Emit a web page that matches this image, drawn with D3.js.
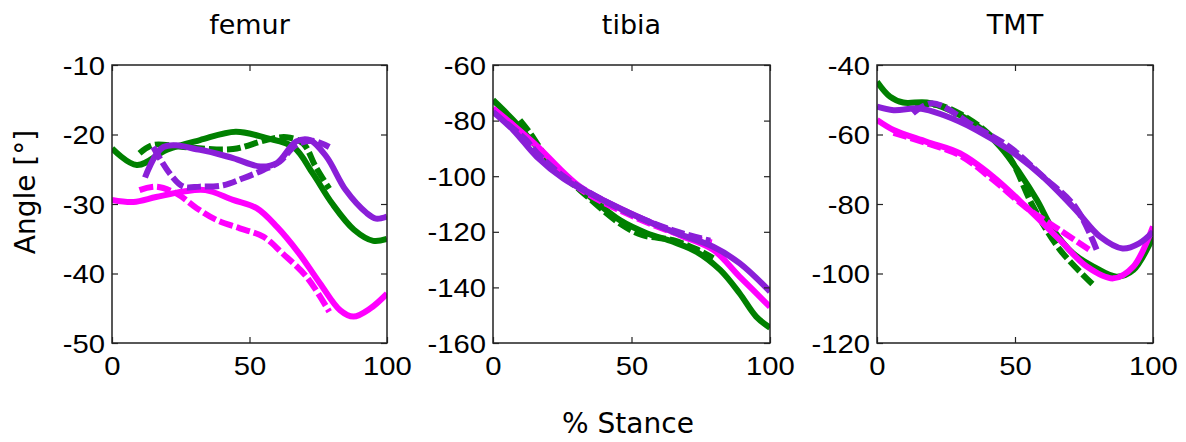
<!DOCTYPE html>
<html>
<head>
<meta charset="utf-8">
<script src="https://cdn.jsdelivr.net/npm/d3@7"></script>
<style>
  html, body { margin: 0; padding: 0; background: #fff; }
  svg { display: block; }
</style>
</head>
<body>
<svg id="chart" width="1186" height="442"></svg>
<script>
// ---------- data ----------
const panelTitles = ["femur", "tibia", "TMT"];
const xTicks = [0, 50, 100];
const yTicksFemur = [-50, -40, -30, -20, -10];
const yTicksTibia = [-160, -140, -120, -100, -80, -60];
const yTicksTMT = [-120, -100, -80, -60, -40];
const xLabel = "% Stance";
const yLabel = "Angle [°]";

// femur: [% stance, angle]
const femurGreenSolid = [[0,-22.0],[9,-24.4],[20,-22.2],[32,-20.8],[45,-19.6],[56,-20.5],[66,-21.8],[73,-25.6],[80,-29.9],[88,-33.7],[95,-35.3],[100,-35.0]];
const femurGreenDash = [[10,-22.7],[15,-21.5],[26,-21.8],[44,-22.1],[56,-20.8],[63.5,-20.4],[69.5,-21.3],[74,-24.6],[79,-27.8]];
const femurMagentaSolid = [[0,-29.4],[7.8,-29.7],[16,-29.0],[26,-28.2],[34,-28.0],[44,-29.4],[52.6,-30.6],[60,-33.3],[68,-37.1],[75.6,-41.4],[83,-45.3],[87.8,-46.2],[94,-45.0],[100,-42.9]];
const femurMagentaDash = [[10,-28.0],[16,-27.5],[23.5,-28.5],[30.8,-30.6],[38,-32.3],[46.5,-33.5],[55,-34.7],[62,-37.1],[70.8,-40.5],[79,-45.5]];
const femurPurpleSolid = [[12,-26.2],[18.7,-21.8],[32,-22.2],[44,-23.4],[54,-24.6],[60,-24.1],[67,-21.0],[72,-20.8],[78,-23.2],[85,-28.0],[92.6,-31.3],[96,-32.1],[100,-31.8]];
const femurPurpleDash = [[15,-21.8],[21,-25.6],[26,-27.5],[32,-27.5],[40.5,-27.3],[47.7,-26.3],[55,-25.1],[61,-23.9],[67,-21.5],[73,-20.9],[79,-21.8]];

// tibia
const tibiaGreenSolid = [[0,-72.6],[7.3,-79.8],[15.8,-89.4],[25.4,-99.0],[35,-107.4],[45.8,-115.8],[55.5,-120.5],[65,-123.6],[73.5,-127.2],[82,-133.7],[89,-142.1],[95,-150.5],[100,-154.5]];
const tibiaGreenDash = [[9.7,-79.8],[13.4,-84.5],[21.8,-96.6],[31.4,-105.0],[45.8,-117.0],[54,-121.2],[65,-123.0],[73.5,-126.3],[79.5,-129.5]];
const tibiaMagentaSolid = [[0,-75.6],[7.3,-81.6],[15.8,-89.0],[31.4,-103.8],[49.5,-113.3],[67.5,-121.2],[79.5,-126.5],[89,-136.1],[100,-147.0]];
const tibiaMagentaDash = [[6,-80.5],[15.8,-90.0],[31.4,-104.5],[49.5,-114.0],[67.5,-121.0],[79,-123.8]];
const tibiaPurpleSolid = [[0,-76.8],[7.3,-83.4],[15.8,-93.0],[25.4,-100.8],[35,-106.2],[49.5,-113.3],[65,-120.0],[79.5,-125.4],[89,-131.3],[100,-141.5]];
const tibiaPurpleDash = [[5,-81.0],[12,-87.0],[15.8,-91.5],[25.4,-100.0],[35,-106.0],[49.5,-113.5],[65,-119.5],[78.4,-123.2]];

// TMT
const tmtGreenSolid = [[0,-44.8],[4.7,-49.1],[9.5,-50.8],[18,-50.8],[26.4,-53.0],[36,-57.3],[44.6,-63.5],[51.8,-71.2],[57.9,-78.8],[63.9,-87.5],[71,-94.2],[78.4,-98.0],[86.8,-100.9],[92.9,-99.0],[100,-89.5]];
const tmtGreenDash = [[13.8,-51.5],[22,-51.5],[30,-54.0],[40,-59.5],[48,-66.5],[56.6,-80.8],[66.3,-93.2],[78.4,-103.3]];
const tmtMagentaSolid = [[0,-55.8],[6,-58.7],[18,-62.1],[30,-65.4],[42,-72.1],[54,-80.8],[66.3,-90.4],[76,-98.0],[85.6,-101.4],[92.9,-98.0],[100,-86.5]];
const tmtMagentaDash = [[6,-59.5],[18,-62.5],[30,-66.0],[42,-73.0],[54,-81.0],[66.3,-87.5],[77,-93.2]];
const tmtPurpleSolid = [[0,-52.0],[6,-53.0],[15.6,-52.5],[24,-54.4],[36,-58.7],[48,-64.5],[60,-72.1],[72,-81.7],[80.8,-89.4],[89,-92.8],[95,-91.3],[100,-88.0]];
const tmtPurpleDash = [[13,-53.9],[20,-51.0],[36,-58.0],[48,-63.6],[60,-72.0],[72,-81.0],[79.6,-93.2]];

// ---------- layout / style ----------
const colors = { green: "#008000", magenta: "#ff00ff", purple: "#8a1fd8" };
const panelsCfg = [
  { title: panelTitles[0], left: 112, right: 387, yDomain: [-50, -10], yTicks: yTicksFemur,
    series: [
      { d: femurGreenSolid, c: "green", dash: false }, { d: femurGreenDash, c: "green", dash: true },
      { d: femurMagentaSolid, c: "magenta", dash: false }, { d: femurMagentaDash, c: "magenta", dash: true },
      { d: femurPurpleSolid, c: "purple", dash: false }, { d: femurPurpleDash, c: "purple", dash: true } ] },
  { title: panelTitles[1], left: 493, right: 770, yDomain: [-160, -60], yTicks: yTicksTibia,
    series: [
      { d: tibiaGreenSolid, c: "green", dash: false }, { d: tibiaGreenDash, c: "green", dash: true },
      { d: tibiaMagentaSolid, c: "magenta", dash: false }, { d: tibiaMagentaDash, c: "magenta", dash: true },
      { d: tibiaPurpleSolid, c: "purple", dash: false }, { d: tibiaPurpleDash, c: "purple", dash: true } ] },
  { title: panelTitles[2], left: 877, right: 1153, yDomain: [-120, -40], yTicks: yTicksTMT,
    series: [
      { d: tmtGreenSolid, c: "green", dash: false }, { d: tmtGreenDash, c: "green", dash: true },
      { d: tmtMagentaSolid, c: "magenta", dash: false }, { d: tmtMagentaDash, c: "magenta", dash: true },
      { d: tmtPurpleSolid, c: "purple", dash: false }, { d: tmtPurpleDash, c: "purple", dash: true } ] }
];
const plotTop = 65, plotBottom = 343;
const tickFont = "'Liberation Sans', Arial, sans-serif";
const labelFont = "'DejaVu Sans', Verdana, sans-serif";
const fmt = d => String(d);   // plain hyphen-minus like the reference

const svg = d3.select("#chart");

panelsCfg.forEach(p => {
  const x = d3.scaleLinear().domain([0, 100]).range([p.left, p.right]);
  const y = d3.scaleLinear().domain(p.yDomain).range([plotBottom, plotTop]);
  const g = svg.append("g");

  const clipId = "clip-" + p.title;
  svg.append("clipPath").attr("id", clipId).append("rect")
    .attr("x", p.left).attr("y", plotTop).attr("width", p.right - p.left).attr("height", plotBottom - plotTop);

  const line = d3.line().x(d => x(d[0])).y(d => y(d[1])).curve(d3.curveCatmullRom.alpha(0.5));
  const lines = g.append("g").attr("clip-path", `url(#${clipId})`);
  p.series.forEach(s => {
    lines.append("path").datum(s.d)
      .attr("d", line)
      .attr("fill", "none")
      .attr("stroke", colors[s.c])
      .attr("stroke-width", 6)
      .attr("stroke-linejoin", "round")
      .attr("stroke-dasharray", s.dash ? "14,4" : null);
  });

  // axes with inward ticks
  const axL = d3.axisLeft(y).tickValues(p.yTicks).tickFormat(fmt).tickSizeInner(-6).tickSizeOuter(0).tickPadding(6);
  const axR = d3.axisRight(y).tickValues(p.yTicks).tickSizeInner(-6).tickSizeOuter(0).tickFormat("");
  const axB = d3.axisBottom(x).tickValues(xTicks).tickFormat(fmt).tickSizeInner(-6).tickSizeOuter(0).tickPadding(12);
  const axT = d3.axisTop(x).tickValues(xTicks).tickSizeInner(-6).tickSizeOuter(0).tickFormat("");

  const gl = g.append("g").attr("transform", `translate(${p.left},0)`).call(axL);
  const gr = g.append("g").attr("transform", `translate(${p.right},0)`).call(axR);
  const gb = g.append("g").attr("transform", `translate(0,${plotBottom})`).call(axB);
  const gt = g.append("g").attr("transform", `translate(0,${plotTop})`).call(axT);
  [gl, gr, gb, gt].forEach(a => {
    a.select(".domain").remove();
    a.selectAll("line").attr("stroke", "#222").attr("stroke-width", 1.2);
    a.selectAll("text").attr("font-family", tickFont).attr("font-size", 25).attr("fill", "#000")
      .attr("transform", "scale(1.17,1)");
  });
  gl.selectAll("text").attr("dy", "0.36em");
  gb.selectAll("text").attr("dy", "0.8em");

  g.append("rect").attr("x", p.left).attr("y", plotTop)
    .attr("width", p.right - p.left).attr("height", plotBottom - plotTop)
    .attr("fill", "none").attr("stroke", "#222").attr("stroke-width", 1.5);

  g.append("text").attr("x", (p.left + p.right) / 2).attr("y", 34)
    .attr("text-anchor", "middle").attr("font-family", labelFont).attr("font-size", 27)
    .attr("fill", "#000").text(p.title);
});

svg.append("text").attr("x", 628).attr("y", 433).attr("text-anchor", "middle")
  .attr("font-family", labelFont).attr("font-size", 28).attr("fill", "#000").text(xLabel);
svg.append("text").attr("transform", "translate(35,192) rotate(-90)").attr("text-anchor", "middle")
  .attr("font-family", labelFont).attr("font-size", 28).attr("fill", "#000").text(yLabel);
</script>
</body>
</html>
